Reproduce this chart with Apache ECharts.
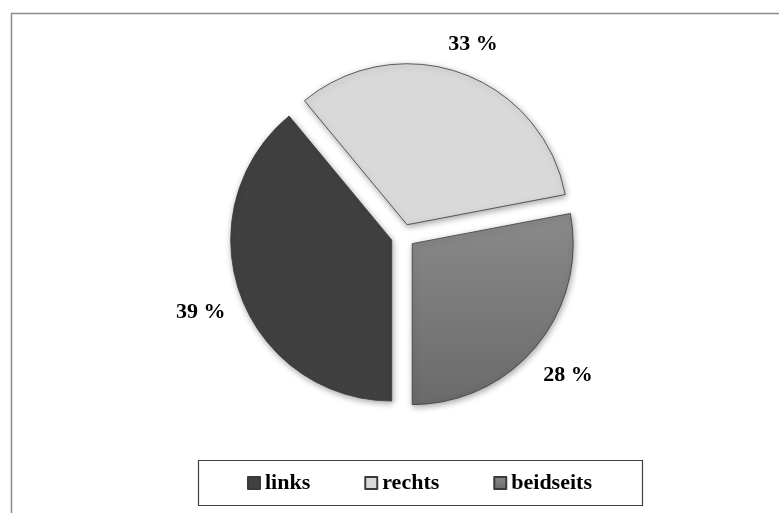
<!DOCTYPE html>
<html>
<head>
<meta charset="utf-8">
<script src="https://cdn.jsdelivr.net/npm/echarts@6/dist/echarts.min.js"></script>
<style>
  html, body { margin: 0; padding: 0; background: #fff; }
  #chart { width: 779px; height: 513px; }
</style>
</head>
<body>
<div id="chart"></div>
<script>
// Side of the body affected, share of cases in percent
const categories = ['links', 'rechts', 'beidseits'];
const shares = [39, 33, 28];

const fonts = '"Liberation Serif", "Times New Roman", serif';
const center = [403, 236];
const radius = 161;
const explode = 12;
const labelGap = 15;
const labelFontSize = 22;
// digits sit a little above the em-box middle; nudge them down to centre the ink
const digitBaselineShift = 3;

const fills = [
  '#404040',
  '#d9d9d9',
  new echarts.graphic.LinearGradient(0, 0, 0, 1, [
    { offset: 0, color: '#8a8a8a' },
    { offset: 1, color: '#6a6a6a' }
  ])
];

// Mid angle of each slice (clockwise from 12 o'clock), starting at 6 o'clock
const total = shares.reduce((a, b) => a + b, 0);
const midAngles = [];
let acc = 180;
shares.forEach(v => {
  const sweep = v / total * 360;
  midAngles.push(acc + sweep / 2);
  acc += sweep;
});

// Percent labels sit just outside the exploded slices, along each slice's mid angle
const measure = document.createElement('canvas').getContext('2d');
measure.font = 'bold ' + labelFontSize + 'px ' + fonts;
const percentLabels = shares.map((v, i) => {
  const text = v + ' %';
  const a = midAngles[i] * Math.PI / 180;
  const dx = Math.sin(a), dy = -Math.cos(a);
  const w = measure.measureText(text).width;
  const h = labelFontSize;
  const extent = (w / 2) * Math.abs(dx) + (h / 2) * Math.abs(dy);
  const dist = explode + radius + labelGap + extent;
  return {
    type: 'text',
    x: center[0] + dist * dx,
    y: center[1] + dist * dy + digitBaselineShift,
    silent: true,
    z: 20,
    style: {
      text: text,
      fontFamily: fonts,
      fontWeight: 'bold',
      fontSize: labelFontSize,
      fill: '#000',
      textAlign: 'center',
      textVerticalAlign: 'middle'
    }
  };
});

const chart = echarts.init(document.getElementById('chart'), null, { renderer: 'canvas' });

chart.setOption({
  animation: false,
  backgroundColor: '#ffffff',
  graphic: [
    {
      type: 'rect',
      shape: { x: 11.5, y: 13.5, width: 800, height: 520 },
      style: { fill: 'none', stroke: '#8c8c8c', lineWidth: 1.5 },
      silent: true,
      z: 0
    },
    {
      type: 'rect',
      shape: { x: 198.5, y: 460.5, width: 444, height: 45 },
      style: { fill: '#ffffff', stroke: '#404040', lineWidth: 1.2 },
      silent: true,
      z: 1
    }
  ].concat(percentLabels),
  legend: {
    left: 242,
    top: 467,
    itemWidth: 12,
    itemHeight: 12,
    itemGap: 54,
    icon: 'rect',
    z: 10,
    data: categories,
    textStyle: {
      fontFamily: fonts,
      fontWeight: 'bold',
      fontSize: 22,
      color: '#000'
    }
  },
  series: [{
    type: 'pie',
    center: center,
    radius: radius,
    startAngle: -90,
    clockwise: true,
    selectedMode: 'multiple',
    selectedOffset: explode,
    silent: true,
    itemStyle: {
      borderColor: '#3a3a3a',
      borderWidth: 0.8,
      shadowColor: 'rgba(0,0,0,0.35)',
      shadowBlur: 6,
      shadowOffsetX: 1,
      shadowOffsetY: 2
    },
    label: { show: false },
    labelLine: { show: false },
    data: categories.map((name, i) => ({
      name: name,
      value: shares[i],
      selected: true,
      itemStyle: { color: fills[i] }
    }))
  }]
});
</script>
</body>
</html>
